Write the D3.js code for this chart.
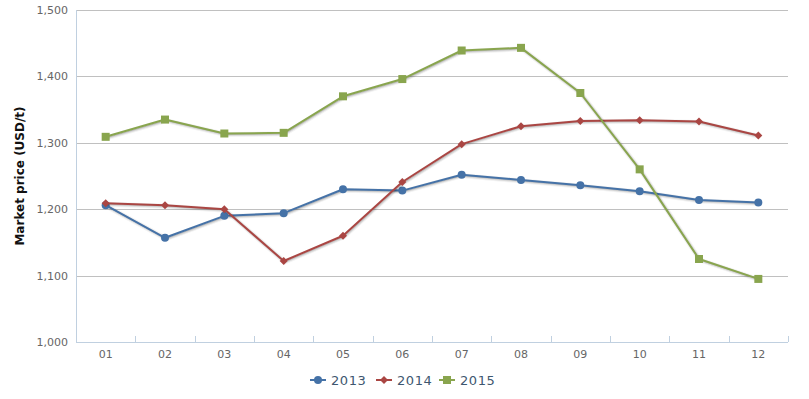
<!DOCTYPE html>
<html><head><meta charset="utf-8">
<script src="https://cdn.jsdelivr.net/npm/d3@7/dist/d3.min.js"></script>
<style>body{margin:0;background:#fff}svg{display:block;font-family:"DejaVu Sans",Verdana,sans-serif}</style>
</head><body><svg id="c" width="809" height="399"></svg>
<script>
const months = ["01","02","03","04","05","06","07","08","09","10","11","12"];
const s2013 = [1206,1157,1190,1194,1230,1228,1252,1244,1236,1227,1214,1210];
const s2014 = [1209,1206,1200,1122,1160,1241,1298,1325,1333,1334,1332,1311];
const s2015 = [1309,1335,1314,1315,1370,1396,1439,1443,1375,1260,1125,1095];
const yTicks = [1000,1100,1200,1300,1400,1500];
const seriesNames = ["2013","2014","2015"];
const colors = ["#4572A7","#AA4643","#89A54E"];
const symbols = ["circle","diamond","square"];
const series = [s2013,s2014,s2015];

const svg = d3.select("#c");
const L=76, R=788, T=10, B=342;
const x = d3.scaleBand().domain(months).range([L,R]);
const y = d3.scaleLinear().domain([1000,1500]).range([B,T]);
const fmt = d3.format(",");

// grid
svg.append("g").selectAll("line").data(yTicks.slice(1)).join("line")
  .attr("x1",L).attr("x2",R).attr("y1",d=>Math.round(y(d))+0.5).attr("y2",d=>Math.round(y(d))+0.5)
  .attr("stroke","#C0C0C0").attr("stroke-width",1);
// y axis line
svg.append("line").attr("x1",L+0.5).attr("x2",L+0.5).attr("y1",T).attr("y2",B).attr("stroke","#C0D0E0");
// y labels
svg.append("g").selectAll("text").data(yTicks).join("text")
  .attr("x",L-8).attr("y",d=>y(d)+4).attr("text-anchor","end")
  .attr("font-size",11).attr("fill","#666").text(d=>fmt(d));
// y title
svg.append("text").attr("transform",`translate(24,${(T+B)/2}) rotate(-90)`).attr("text-anchor","middle")
  .attr("font-size",12).attr("font-weight","bold").attr("fill","#111").text("Market price (USD/t)");
// x axis
svg.append("line").attr("x1",L).attr("x2",R).attr("y1",B+0.5).attr("y2",B+0.5).attr("stroke","#C0D0E0");
const tickX = months.map(m=>x(m)).concat([R]);
svg.append("g").selectAll("line").data(tickX).join("line")
  .attr("x1",d=>Math.round(d)+0.5).attr("x2",d=>Math.round(d)+0.5).attr("y1",B-6).attr("y2",B)
  .attr("stroke","#C0D0E0");
svg.append("g").selectAll("text").data(months).join("text")
  .attr("x",d=>x(d)+x.bandwidth()/2).attr("y",B+16).attr("text-anchor","middle")
  .attr("font-size",11).attr("fill","#666").text(d=>d);

const cx = (i)=>x(months[i])+x.bandwidth()/2;
const line = d3.line().x((d,i)=>cx(i)).y(d=>y(d));

function marker(g, type, color){
  if(type==="circle") g.append("circle").attr("r",4).attr("fill",color);
  else if(type==="diamond") g.append("path").attr("d","M0,-4L4,0L0,4L-4,0Z").attr("fill",color);
  else g.append("rect").attr("x",-4).attr("y",-4).attr("width",8).attr("height",8).attr("fill",color);
}

series.forEach((s,k)=>{
  const g = svg.append("g");
  [[5,0.05],[3,0.1],[1,0.15]].forEach(([w,o])=>{
    g.append("path").attr("d",line(s)).attr("fill","none").attr("stroke","#000")
      .attr("stroke-opacity",o).attr("stroke-width",w).attr("transform","translate(1,1)")
      .attr("stroke-linejoin","round");
  });
  g.append("path").attr("d",line(s)).attr("fill","none").attr("stroke",colors[k]).attr("stroke-width",2)
    .attr("stroke-linejoin","round");
  s.forEach((v,i)=>{
    const m = g.append("g").attr("transform",`translate(${cx(i)},${y(v)})`);
    marker(m,symbols[k],colors[k]);
  });
});

// legend
const leg = svg.append("g");
seriesNames.forEach((n,k)=>{
  const g = leg.append("g").attr("transform",`translate(${[310,376,439][k]},380)`);
  g.append("line").attr("x1",0).attr("x2",16).attr("y1",0).attr("y2",0).attr("stroke",colors[k]).attr("stroke-width",2);
  const m = g.append("g").attr("transform","translate(8,0)");
  marker(m,symbols[k],colors[k]);
  g.append("text").attr("x",21).attr("y",5).attr("font-size",13).attr("letter-spacing","0.6px").attr("fill","#3E576F").text(n);
});
</script></body></html>
